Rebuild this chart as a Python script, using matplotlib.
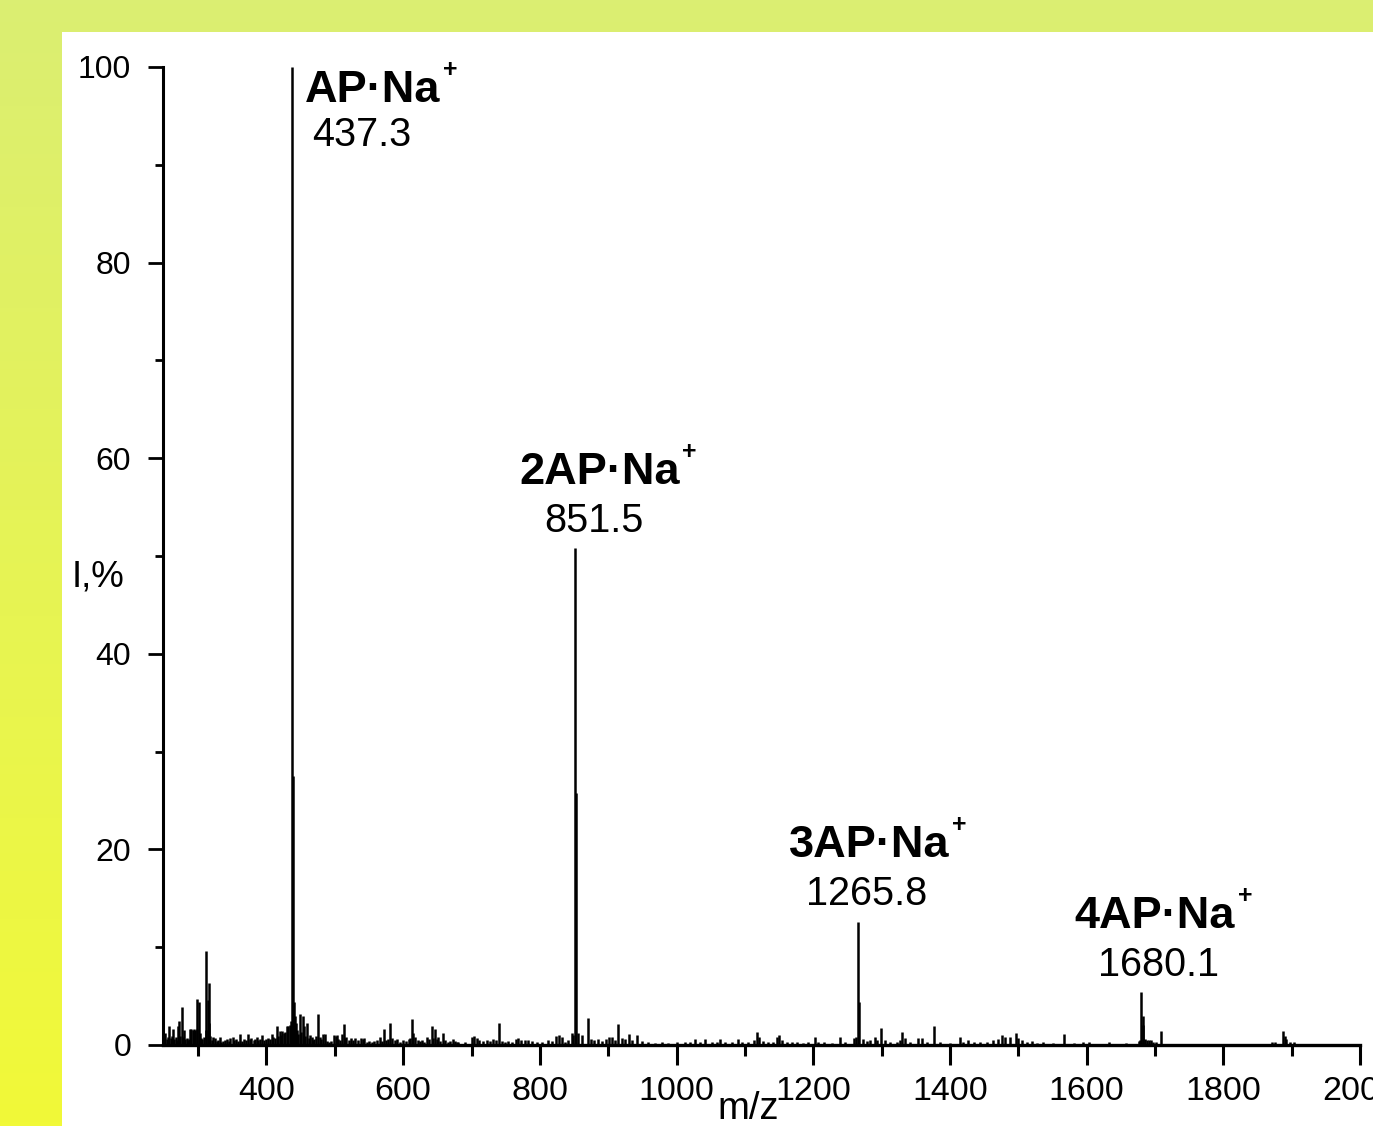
import matplotlib
matplotlib.use('Agg')
import matplotlib.pyplot as plt
import numpy as np
from matplotlib.patches import Rectangle
from matplotlib.ticker import MultipleLocator

plt.rcParams['font.family'] = ['Liberation Sans', 'DejaVu Sans']

# peak list: m/z and relative intensity, %
mz = [252, 254, 256, 258, 260, 262, 263.6, 265, 267, 269, 271, 272.4, 274, 276.8, 278, 279.3,
      281, 283, 285, 287, 288, 290, 292, 294, 296, 297.9, 299, 300.8, 302, 304, 306, 308,
      311, 312, 314, 315.9, 316.5, 318, 320, 322, 324.5, 327, 329, 332, 334, 337, 340, 342,
      345, 347, 350.6, 353, 356, 358, 361, 364, 367, 370, 373.4, 376, 378, 381, 383, 385.7,
      388, 390, 393, 396, 399, 402, 405, 407.6, 410, 412, 415, 417, 419.8, 421, 423, 425,
      427, 429.6, 432, 434, 435.5, 437.3, 438.6, 440, 441, 442.5, 444, 446, 449, 451, 453,
      455, 457, 459.7, 462, 464, 466, 468, 470, 472, 475, 477.6, 480, 483, 486, 489, 492,
      495, 499, 501, 503, 505, 507, 510, 513.5, 515, 517, 520, 523, 526, 530, 534, 538,
      541, 543, 547, 550, 554, 558, 562, 566, 569, 572, 575, 578, 581, 584, 588, 591, 595,
      600, 604, 608, 610, 612.5, 615, 618, 621, 625, 628, 631, 634.5, 638, 641.8, 644,
      646.6, 649, 651, 654, 657.9, 661, 665, 669, 673, 676, 679,
      680.8, 690.5, 700.3, 704, 707.6, 711, 717.4, 722.2, 727, 732, 735.4, 740.8, 744.2,
      749, 754, 758.8, 764.7, 767.6, 772, 778.3, 783.2, 788, 795.4, 802.7, 812.5, 817.4,
      823.2, 828, 832, 837, 841.8, 846.6, 849, 851.5, 852.5, 855.4, 861.3, 870, 875, 879.8,
      885.7, 890.5, 896.4, 901.3, 905, 910, 915, 919.8, 924.7, 930.5, 935.4, 941.7, 949,
      958.8, 968.6, 978.3, 988.1, 1000.3, 1012.5, 1019.8, 1027.1, 1034.4, 1041.8, 1051.5,
      1058.8, 1063.7, 1071, 1080.8, 1090.5, 1095.4, 1105.2, 1114, 1117.4, 1120.8, 1127.1,
      1134.4, 1141.8, 1146.7, 1150, 1154, 1161.3, 1168.6, 1176, 1185.7, 1193, 1202.8,
      1207.6, 1215, 1227, 1239.3, 1246.7, 1258.9, 1262.8, 1265.8, 1267, 1273.5, 1278.4,
      1283.3, 1290.6, 1294, 1298.9, 1305.2, 1312.5, 1322.3, 1327.1, 1330.5, 1334.5, 1341.8,
      1354, 1358.9, 1366.2, 1376, 1385.7, 1400.3, 1414, 1419.8, 1427.1, 1434.5, 1444.2,
      1454, 1463.7, 1471, 1475.9, 1480.8, 1488.1, 1496.4, 1500.3, 1505.2, 1512.5, 1519.8,
      1527.1, 1536.9, 1551.5, 1566.2, 1580.8, 1595.4, 1604, 1633.1, 1657.5, 1676, 1678,
      1680.1, 1681.8, 1683.2, 1685.7, 1689, 1691.5, 1694, 1697.4, 1701.3, 1708.6, 1740,
      1798.6, 1871.6, 1875.5, 1881.3, 1887.6, 1890, 1892, 1898.3, 1903.2, 1932.4, 1961.6]
intensity = [1.2, 0.6, 0.85, 1.9, 0.7, 0.9, 1.6, 0.6, 0.8, 0.5, 1.9, 2.45, 0.9, 3.9, 0.8, 1.5,
             0.6, 0.7, 0.5, 0.6, 1.6, 1.6, 1.5, 1.6, 1.5, 4.7, 1.6, 4.4, 1.2, 0.7, 0.6, 0.8,
             9.6, 1.5, 4.6, 6.3, 2.2, 0.9, 0.5, 0.8, 0.7, 0.4, 0.5, 0.8, 0.3, 0.4, 0.5, 0.6,
             0.4, 0.7, 0.8, 0.5, 0.6, 0.4, 1.1, 0.4, 0.6, 0.5, 1.1, 0.6, 0.7, 0.5, 0.6, 0.85,
             0.5, 0.6, 1.0, 0.5, 0.6, 0.7, 0.6, 1.1, 0.8, 0.7, 1.95, 0.9, 1.4, 1.0, 1.4, 1.2,
             1.3, 1.95, 1.95, 2.0, 2.5, 100, 27.5, 4.4, 3.0, 2.2, 1.5, 1.1, 3.2, 1.3, 3.0,
             1.9, 0.9, 2.2, 0.7, 1.0, 0.85, 0.5, 0.6, 0.9, 3.2, 0.85, 0.6, 1.1, 1.1, 0.4, 0.3,
             0.4, 1.0, 0.9, 1.0, 0.6, 0.5, 1.1, 2.1, 0.7, 0.85, 0.5, 0.7, 0.5, 0.7, 0.5, 0.7,
             0.6, 0.7, 0.3, 0.4, 0.3, 0.4, 0.5, 0.8, 0.4, 1.6, 0.5, 0.6, 2.2, 0.7, 0.5, 0.6, 0.3,
             0.5, 0.4, 0.6, 0.7, 2.7, 1.2, 0.85, 0.5, 0.4, 0.5, 0.3, 0.8, 0.6, 1.95, 0.7,
             1.6, 0.6, 0.85, 0.4, 1.2, 0.5, 0.3, 0.4, 0.6, 0.4, 0.3,
             0.34, 0.3, 0.8, 0.9, 0.7, 0.5, 0.45, 0.5, 0.4, 0.6, 0.55, 2.2, 0.4,
             0.35, 0.4, 0.3, 0.65, 0.7, 0.5, 0.55, 0.5, 0.4, 0.3, 0.35, 0.5, 0.4,
             0.9, 1.0, 0.8, 0.35, 0.5, 1.2, 1.0, 50.8, 25.8, 1.2, 1.0, 2.8, 0.6, 0.5,
             0.6, 0.4, 0.6, 0.85, 0.8, 0.5, 2.15, 0.7, 0.6, 1.1, 0.5, 1.0, 0.45,
             0.3, 0.25, 0.3, 0.25, 0.3, 0.3, 0.3, 0.6, 0.3, 0.6, 0.3,
             0.35, 0.6, 0.3, 0.3, 0.6, 0.35, 0.3, 0.5, 1.35, 0.85, 0.45,
             0.3, 0.3, 0.8, 1.0, 0.5, 0.3, 0.3, 0.3, 0.25, 0.3, 0.8,
             0.3, 0.3, 0.25, 0.85, 0.3, 0.7, 0.8, 12.6, 4.4, 0.6, 0.4,
             0.5, 0.85, 0.5, 1.7, 0.5, 0.3, 0.35, 0.5, 1.36, 0.7, 0.3,
             0.7, 0.7, 0.3, 1.95, 0.35, 0.25, 0.85, 0.3, 0.5, 0.3, 0.35,
             0.3, 0.5, 0.6, 1.0, 0.85, 0.85, 1.26, 0.7, 0.5, 0.3, 0.45,
             0.25, 0.35, 0.25, 1.1, 0.25, 0.35, 0.3, 0.3, 0.2, 0.45, 0.5,
             5.4, 3.0, 2.0, 0.6, 0.55, 0.55, 0.55, 0.3, 0.3, 1.45, 0.15,
             0.1, 0.3, 0.3, 0.15, 1.45, 0.95, 0.6, 0.35, 0.35, 0.15, 0.15]

# labelled ions
ion_names = ['AP·Na', '2AP·Na', '3AP·Na', '4AP·Na']
ion_mz = [437.3, 851.5, 1265.8, 1680.1]
ion_int = [100, 50.8, 12.6, 5.4]
ion_mz_text = ['437.3', '851.5', '1265.8', '1680.1']

x_ticks = [400, 600, 800, 1000, 1200, 1400, 1600, 1800, 2000]
y_ticks = [0, 20, 40, 60, 80, 100]

W, H = 1373, 1126
fig = plt.figure(figsize=(W / 100, H / 100), dpi=100)

# yellow backdrop with a white sheet on it
bg = fig.add_axes([0, 0, 1, 1], zorder=-3)
grad = np.linspace(0, 1, 256).reshape(-1, 1)
top_c = np.array([219, 238, 114]) / 255
bot_c = np.array([241, 249, 56]) / 255
img = top_c[None, None, :] * (1 - grad[:, :, None]) + bot_c[None, None, :] * grad[:, :, None]
bg.imshow(img, aspect='auto', extent=[0, 1, 0, 1])
bg.axis('off')
fig.add_artist(Rectangle((62 / W, 0), 1, (H - 32) / H, transform=fig.transFigure,
                         facecolor='white', edgecolor='none', zorder=-2))

ax = fig.add_axes([163.3 / W, (H - 1045) / H, (1360 - 163.3) / W, (1045 - 67) / H])
ax.set_facecolor('none')
ax.vlines(mz, 0, intensity, color='black', lw=1.8)
ax.set_xlim(249, 2000)
ax.set_ylim(0, 100)

for s in ['top', 'right']:
    ax.spines[s].set_visible(False)
ax.spines['left'].set_linewidth(2.2)
ax.spines['bottom'].set_linewidth(2.4)

ax.set_xticks(x_ticks)
ax.set_yticks(y_ticks)
ax.xaxis.set_minor_locator(MultipleLocator(100))
ax.yaxis.set_minor_locator(MultipleLocator(10))
ax.tick_params(axis='x', which='major', length=14.5, width=2.2, direction='out', pad=8,
               labelsize=24.5)
ax.tick_params(axis='x', which='minor', length=8, width=2.2, direction='out')
ax.tick_params(axis='y', which='major', length=11, width=2, direction='out', pad=12,
               labelsize=23)
ax.tick_params(axis='y', which='minor', length=6, width=2, direction='out')

ax.text(-0.0763, 0.469, 'I,%', transform=ax.transAxes, fontsize=26.5, ha='left',
        va='baseline')
ax.text(1104.7, -0.0757, 'm/z', transform=ax.get_xaxis_transform(), fontsize=27.5,
        ha='center', va='baseline', clip_on=False)

# ion labels: (name x offset, number x offset, alignment)
label_layout = [(19, 29, 'left'), (35.2, 27, 'center'), (16, 13, 'center'), (19.6, 25.5, 'center')]
for name, m, inten, num, (dx_name, dx_num, ha) in zip(ion_names, ion_mz, ion_int,
                                                       ion_mz_text, label_layout):
    y_name = min(inten, 89.8) + 6.6
    y_num = min(inten, 90.2) + 1.7
    t = ax.text(m + dx_name, y_name, name, fontsize=32.5, fontweight='bold', ha=ha,
                va='baseline', clip_on=False)
    ax.annotate('+', xy=(1, 1), xycoords=t, xytext=(2, 0), textcoords='offset points',
                fontsize=18, fontweight='bold', ha='left', va='center')
    ax.text(m + dx_num, y_num, num, fontsize=28.5, ha=ha, va='baseline', clip_on=False)

fig.savefig('out.png', dpi=100)
